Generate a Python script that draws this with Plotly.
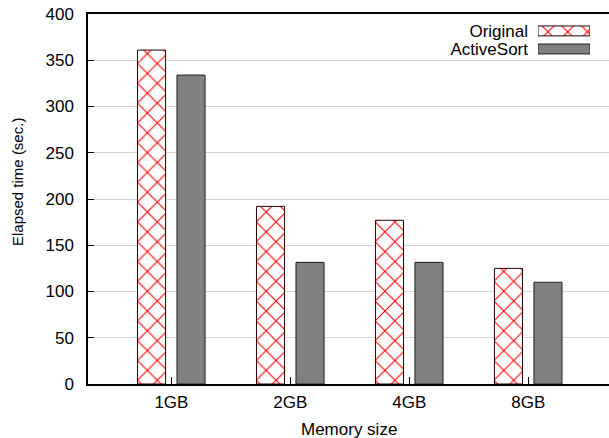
import plotly.graph_objects as go

# Elapsed sort time per memory size
categories = ["1GB", "2GB", "4GB", "8GB"]
original = [361, 192, 177, 125]
activesort = [334, 131.5, 131.5, 110]
series_names = ["Original", "ActiveSort"]
y_ticks = [0, 50, 100, 150, 200, 250, 300, 350, 400]
key_length = [1]

FONT = "Liberation Sans"
FS = 17
FS_YTITLE = 15

W, H = 609, 438
L, R, T, B = 88, 0, 14, 54
PW, PH = W - L - R, H - T - B


def px_x(p):
    return (p - L) / PW


def px_y(p):
    return (H - B - p) / PH


orig_marker = dict(
    color="white",
    line=dict(color="#2a0000", width=1),
    pattern=dict(shape="x", fgcolor="#ff0000", fgopacity=1, bgcolor="white",
                 fillmode="replace", size=14, solidity=0.15),
)
act_marker = dict(color="#808080", line=dict(color="#202020", width=1))

fig = go.Figure()
fig.add_bar(x=categories, y=original, name=series_names[0], width=0.236, offset=-0.285,
            marker=orig_marker, showlegend=False)
fig.add_bar(x=categories, y=activesort, name=series_names[1], width=0.236, offset=0.047,
            marker=act_marker, showlegend=False)

# key in the upper right corner: label to the left of a long swatch
fig.add_bar(y=[series_names[0]], x=key_length, orientation="h", xaxis="x2", yaxis="y2",
            width=0.55, marker=orig_marker, showlegend=False, hoverinfo="skip")
fig.add_bar(y=[series_names[1]], x=key_length, orientation="h", xaxis="x2", yaxis="y2",
            width=0.55, marker=act_marker, showlegend=False, hoverinfo="skip")

fig.update_layout(
    width=W, height=H,
    margin=dict(l=L, r=R, t=T, b=B, pad=0),
    paper_bgcolor="white", plot_bgcolor="white",
    barmode="overlay",
    font=dict(family=FONT, size=FS, color="black"),
    xaxis=dict(
        type="category", range=[-0.701, 3.678],
        ticks="inside", ticklen=7, tickwidth=1, tickcolor="black",
        showline=True, linecolor="black", linewidth=1.5, mirror=True,
        showgrid=False, zeroline=False, ticklabelstandoff=2,
        tickfont=dict(family=FONT, size=FS),
    ),
    yaxis=dict(
        range=[0, 400], tickvals=y_ticks,
        ticks="inside", ticklen=6, tickwidth=1, tickcolor="black",
        showline=True, linecolor="black", linewidth=1.5,
        showgrid=True, gridcolor="#d6d6d6", gridwidth=1, zeroline=False,
        ticklabelstandoff=9,
        tickfont=dict(family=FONT, size=FS),
    ),
    yaxis3=dict(
        overlaying="y", side="right", anchor="x", matches="y",
        range=[0, 400], tickvals=y_ticks, showticklabels=False,
        ticks="inside", ticklen=6, tickwidth=1, tickcolor="black",
        showline=False, showgrid=False, zeroline=False,
    ),
    xaxis2=dict(
        domain=[px_x(538), px_x(590)], anchor="y2", range=[0, 1], visible=False,
    ),
    yaxis2=dict(
        domain=[px_y(58), px_y(21.9)], anchor="x2",
        type="category", categoryorder="array", categoryarray=series_names[::-1],
        tickmode="array", tickvals=series_names, ticktext=series_names,
        range=[-0.5, 1.5], ticks="", showline=False, showgrid=False, zeroline=False,
        ticklabelstandoff=9, ticklabeloverflow="allow",
        tickfont=dict(family=FONT, size=FS),
    ),
    annotations=[
        dict(text="Elapsed time (sec.)", textangle=-90, xref="paper", yref="paper",
             x=px_x(17), y=px_y(182), xanchor="center", yanchor="middle", showarrow=False,
             font=dict(family=FONT, size=FS_YTITLE)),
        dict(text="Memory size", xref="paper", yref="paper",
             x=0.5, y=px_y(429), xanchor="center", yanchor="middle", showarrow=False,
             font=dict(family=FONT, size=FS)),
    ],
)

fig.write_html("out.html")
